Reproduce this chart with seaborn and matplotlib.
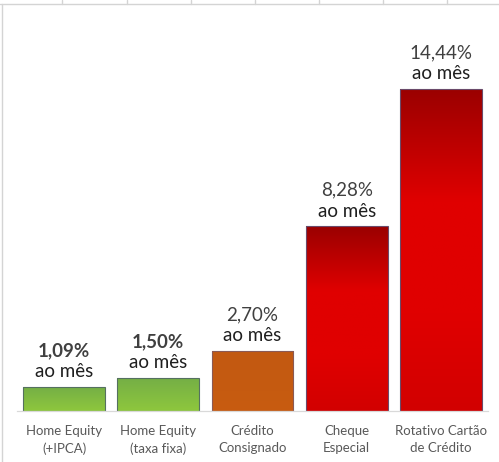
import numpy as np
import pandas as pd
import matplotlib
matplotlib.use("Agg")
import matplotlib.pyplot as plt
from matplotlib.colors import LinearSegmentedColormap
from matplotlib.lines import Line2D
import seaborn as sns

# data
categories = ["Home Equity\n(+IPCA)", "Home Equity\n(taxa fixa)", "Crédito\nConsignado",
              "Cheque\nEspecial", "Rotativo Cartão\nde Crédito"]
rates = [1.09, 1.50, 2.70, 8.28, 14.44]
rate_labels = ["1,09%", "1,50%", "2,70%", "8,28%", "14,44%"]
bold_labels = [True, True, False, False, False]

base_colors = ["#80b842", "#80b842", "#c55a11", "#d40000", "#d40000"]
red_grad = [(0, "#9a0000"), (0.35, "#e00000"), (0.7, "#e00000"), (1, "#d20000")]
gradients = [
    ["#74ae46", "#8ec73d"],
    ["#74ae46", "#8ec73d"],
    ["#c25912", "#c85c10"],
    red_grad,
    red_grad,
]
edge_colors = ["#557060", "#557060", "#8a5a55", "#6a4a6a", "#6a4a6a"]

df = pd.DataFrame({"categoria": categories, "taxa": rates})

sns.set_style("white")
plt.rcParams["font.family"] = ["Lato", "DejaVu Sans"]

fig = plt.figure(figsize=(4.99, 4.62), dpi=100)
ax = fig.add_axes([17 / 499, 51 / 462, 471 / 499, 357 / 462])

sns.barplot(data=df, x="categoria", y="taxa", hue="categoria", order=categories,
            hue_order=categories, palette=base_colors, legend=False,
            width=0.87, ax=ax, saturation=1)

ax.set_xlim(-0.5, 4.5)
ax.set_ylim(0, 16)

patches = sorted(ax.patches, key=lambda p: p.get_x())
for i, p in enumerate(patches):
    x0, y0 = p.get_x(), p.get_y()
    w, h = p.get_width(), p.get_height()
    cmap = LinearSegmentedColormap.from_list(f"g{i}", gradients[i])
    grad = np.linspace(0, 1, 256).reshape(-1, 1)
    im = ax.imshow(grad, cmap=cmap, aspect="auto", extent=[x0, x0 + w, y0, y0 + h],
                   origin="upper", zorder=0.5, interpolation="bilinear")
    im.set_clip_path(p)
    p.set_facecolor("none")
    p.set_edgecolor(edge_colors[i])
    p.set_linewidth(0.8)
    p.set_zorder(1)

    # value labels above bars
    ax.annotate("ao mês", (x0 + w / 2, y0 + h), xytext=(0, 7), textcoords="offset points",
                ha="center", va="baseline", fontsize=13.5, color="#1f1f1f")
    ax.annotate(rate_labels[i], (x0 + w / 2, y0 + h), xytext=(0, 22), textcoords="offset points",
                ha="center", va="baseline", fontsize=13.5, color="#404040",
                fontweight="bold" if bold_labels[i] else "normal")

ax.set_xlabel("")
ax.set_ylabel("")
ax.set_yticks([])
ax.tick_params(axis="x", length=0, pad=10, labelsize=9.5, labelcolor="#595959")
for lbl in ax.get_xticklabels():
    lbl.set_linespacing(1.5)
for side in ["top", "right", "left"]:
    ax.spines[side].set_visible(False)
ax.spines["bottom"].set_color("#d9d9d9")
ax.spines["bottom"].set_linewidth(0.9)

# spreadsheet cell grid showing around the chart object
grid_c = "#d4d4d4"
fig.add_artist(Line2D([0, 1], [1 - 4 / 462, 1 - 4 / 462], color=grid_c, lw=1))
for gx in [62, 127, 191, 255, 319, 383, 447]:
    fig.add_artist(Line2D([gx / 499, gx / 499], [1, 1 - 4 / 462], color=grid_c, lw=1))
fig.add_artist(Line2D([1.5 / 499, 1.5 / 499], [0, 1 - 4 / 462], color=grid_c, lw=1))

fig.savefig("out.png", dpi=100)
